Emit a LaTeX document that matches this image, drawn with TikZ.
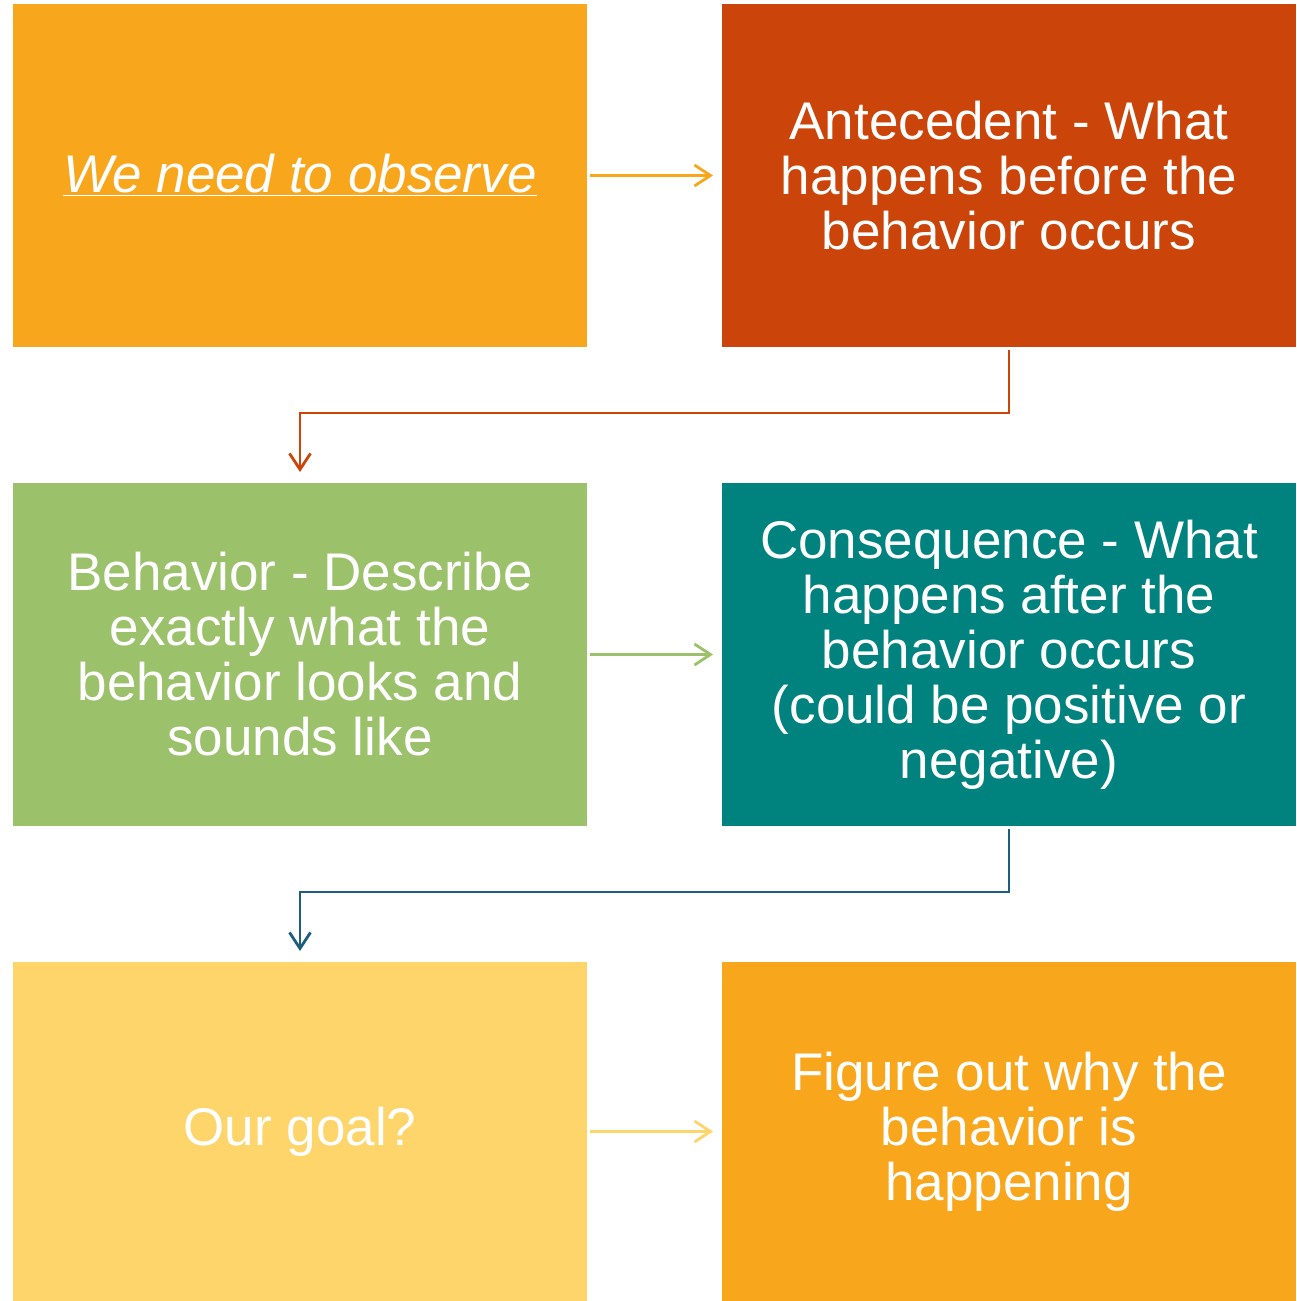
\documentclass[tikz,border=0pt]{standalone}
\usepackage{fontspec}
\setmainfont{Liberation Sans}
\usetikzlibrary{arrows.meta}
\definecolor{cOrange}{HTML}{F8A61C}
\definecolor{cRed}{HTML}{CB450A}
\definecolor{cGreen}{HTML}{9BC26B}
\definecolor{cTeal}{HTML}{00827F}
\definecolor{cYellow}{HTML}{FDD56B}
\definecolor{cBlue}{HTML}{1C5E7E}
\tikzset{
  box/.style={minimum width=287pt, minimum height=171.5pt, inner sep=0pt, outer sep=0pt,
    text=white, align=center, font=\fontsize{26.5}{27.5}\selectfont, anchor=north west},
  conn/.style={line width=1.4pt, -{Straight Barb[length=8pt,width=10.5pt,line width=1.4pt]}},
}
\begin{document}
\begin{tikzpicture}[x=0.5pt,y=-0.5pt]
\useasboundingbox (0,0) rectangle (1296,1301);
\node[box, fill=cOrange] (obs) at (13,4) {\itshape\underline{We need to observe}};
\node[box, fill=cRed] (ant) at (722,4) {Antecedent - What\\happens before the\\behavior occurs};
\node[box, fill=cGreen] (beh) at (13,483) {Behavior - Describe\\exactly what the\\behavior looks and\\sounds like};
\node[box, fill=cTeal] (con) at (722,483) {Consequence - What\\happens after the\\behavior occurs\\(could be positive or\\negative)};
\node[box, fill=cYellow, minimum height=169.5pt] (goal) at (13,962) {Our goal?};
\node[box, fill=cOrange, minimum height=169.5pt] (why) at (722,962) {Figure out why the\\behavior is\\happening};
\draw[conn, cOrange] ([xshift=1.5pt]obs.east) -- ([xshift=-4.5pt]ant.west);
\draw[conn, cGreen] ([xshift=1.5pt]beh.east) -- ([xshift=-4.5pt]con.west);
\draw[conn, cYellow] ([xshift=1.5pt]goal.east) -- ([xshift=-4.5pt]why.west);
\draw[conn, cRed] ([yshift=-1.5pt]ant.south) |- (300,413) -- ([yshift=5.5pt]beh.north);
\draw[conn, cBlue] ([yshift=-1.5pt]con.south) |- (300,892) -- ([yshift=5.5pt]goal.north);
\end{tikzpicture}
\end{document}
